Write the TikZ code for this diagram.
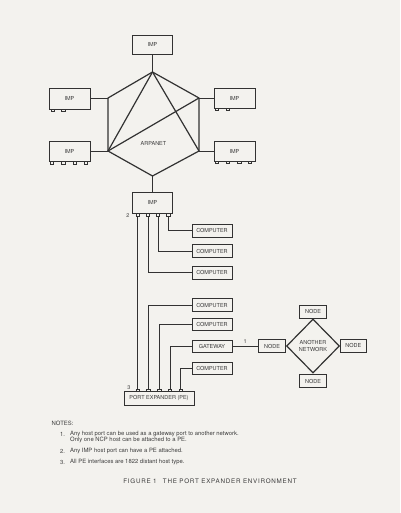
\documentclass[tikz,border=0pt]{standalone}
\usepackage{fontspec}
\setmainfont{TeX Gyre Heros}
\newfontfamily\capfont[LetterSpace=12]{TeX Gyre Heros}
\usetikzlibrary{shapes.geometric}
\definecolor{bg}{RGB}{243,242,238}
\definecolor{ink}{RGB}{50,50,50}
\definecolor{txt}{RGB}{60,60,60}
\begin{document}
\begin{tikzpicture}[x=1pt,y=-1pt,
  box/.style={draw=ink, line width=0.75pt, inner sep=0pt, text=txt, font=\fontsize{5.5}{6.5}\selectfont},
  imp/.style={box, minimum width=41pt, minimum height=20pt},
  comp/.style={box, minimum width=40pt, minimum height=13pt},
  nodebox/.style={box, minimum width=27.5pt, minimum height=13pt},
  wire/.style={draw=ink, line width=0.85pt},
  hexedge/.style={draw=ink, line width=1.2pt},
  footst/.style={draw=ink, line width=0.6pt},
  lbl/.style={text=txt, inner sep=0pt, font=\fontsize{5.5}{6.5}\selectfont},
  note/.style={text=txt, inner sep=0pt, anchor=west, font=\fontsize{5.9}{7}\selectfont}]
\fill[bg] (0,0) rectangle (400,513);
\useasboundingbox (0,0) rectangle (400,513);

% IMPs around ARPANET
\node[imp, minimum width=40pt, minimum height=19pt] (imptop) at (152.5,44.5) {IMP};
\node[imp, minimum height=21pt] (impul) at (69.5,98.5) {IMP};
\node[imp] (impll) at (69.5,151.7) {IMP};
\node[imp] (impur) at (234.5,98) {IMP};
\node[imp] (implr) at (234.5,151) {IMP};
\node[imp, minimum width=40.5pt, minimum height=21pt] (impbot) at (152.5,202.5) {IMP};

% hexagon
\coordinate (ht) at (152.5,72);
\coordinate (hul) at (108,98);
\coordinate (hll) at (108,151);
\coordinate (hb) at (152.5,176);
\coordinate (hur) at (199,98);
\coordinate (hlr) at (199,151);
\draw[hexedge, line join=round] (ht) -- (hur) -- (hlr) -- (hb) -- (hll) -- (hul) -- cycle;
\draw[hexedge] (ht) -- (hll);
\draw[hexedge] (ht) -- (hlr);
\draw[hexedge] (hll) -- (hur);
\node[lbl] (arpa) at (153.5,143) {ARPANET};

\draw[wire] (imptop.south) -- (ht);
\draw[wire] (hul -| impul.east) -- (hul);
\draw[wire] (hll -| impll.east) -- (hll);
\draw[wire] (hur -| impur.west) -- (hur);
\draw[wire] (hlr -| implr.west) -- (hlr);
\draw[wire] (hb) -- (impbot.north);

% feet of IMPs
\foreach \x in {52.7,63.3} \draw[footst] (\x-1.6,109) rectangle (\x+1.6,111.5);
\foreach \x in {51.7,63.3,75,85.5} \draw[footst] (\x-1.6,161.7) rectangle (\x+1.6,164.2);
\foreach \x in {216.7,227.7} \draw[footst] (\x-1.6,108) rectangle (\x+1.6,110.5);
\foreach \x in {216.7,227.7,239.3,250} \draw[footst] (\x-1.6,161) rectangle (\x+1.6,163.5);
\foreach \x in {137.5,148,158,168.3} \draw[footst] (\x-1.6,213) rectangle (\x+1.6,216);

\coordinate (if1) at (137.5,216);
\coordinate (if2) at (148,216);
\coordinate (if3) at (158,216);
\coordinate (if4) at (168.3,216);
\node[lbl] (two) at (128,215.5) {2};

% computers
\node[comp] (c1) at (212,230.7) {COMPUTER};
\node[comp] (c2) at (212,251.3) {COMPUTER};
\node[comp] (c3) at (212,272.7) {COMPUTER};
\node[comp] (c4) at (212,305) {COMPUTER};
\node[comp, minimum height=12pt] (c5) at (212,324.7) {COMPUTER};
\node[comp, minimum height=12pt] (gw) at (212,346.2) {GATEWAY};
\node[comp, minimum height=12pt] (c6) at (212,368.3) {COMPUTER};

% port expander
\node[box, minimum width=70pt, minimum height=13.5pt] (pe) at (159,398.3) {PORT EXPANDER (PE)};
\foreach \x in {137.5,148.3,159.3,170,180.7} \draw[footst] (\x-1.6,391.5) rectangle (\x+1.6,388.8);
\coordinate (pf1) at (137.5,388.8);
\coordinate (pf2) at (148.3,388.8);
\coordinate (pf3) at (159.3,388.8);
\coordinate (pf4) at (170,388.8);
\coordinate (pf5) at (180.7,388.8);
\node[lbl] (three) at (129,387.5) {3};

\draw[wire] (if1) -- (pf1);
\draw[wire] (if2) |- (c3.west);
\draw[wire] (if3) |- (c2.west);
\draw[wire] (if4) |- (c1.west);
\draw[wire] (pf2) |- (c4.west);
\draw[wire] (pf3) |- (c5.west);
\draw[wire] (pf4) |- (gw.west);
\draw[wire] (pf5) |- (c6.west);

% another network
\node[nodebox] (nl) at (272,346.2) {NODE};
\node[diamond, draw=ink, line width=1.2pt, minimum width=53pt, minimum height=54pt, inner sep=0pt, align=center, text=txt, font=\fontsize{5.5}{6.5}\selectfont] (net) at (313,346) {ANOTHER\\NETWORK};
\node[nodebox] (nt) at (313,311.7) {NODE};
\node[nodebox, minimum width=26.7pt] (nr) at (353.3,345.7) {NODE};
\node[nodebox] (nb) at (313,381.3) {NODE};
\draw[wire] (gw.east) -- (nl.west) node[lbl, midway, above=2.5pt] (one) {1};

% notes
\node[note] (notes) at (51.5,423) {NOTES:};
\node[note] (n1) at (60,434) {1.};
\node[note] (n1a) at (70,434) {Any host port can be used as a gateway port to another network.};
\node[note] (n1b) at (70,440) {Only one NCP host can be attached to a PE.};
\node[note] (n2) at (60,451) {2.};
\node[note] (n2a) at (70,451) {Any IMP host port can have a PE attached.};
\node[note] (n3) at (60,462) {3.};
\node[note] (n3a) at (70,462) {All PE interfaces are 1822 distant host type.};
\node[text=txt, inner sep=0pt, font=\capfont\fontsize{6.25}{7.5}\selectfont] (cap) at (210,481) {FIGURE 1\quad THE PORT EXPANDER ENVIRONMENT};
\end{tikzpicture}
\end{document}
